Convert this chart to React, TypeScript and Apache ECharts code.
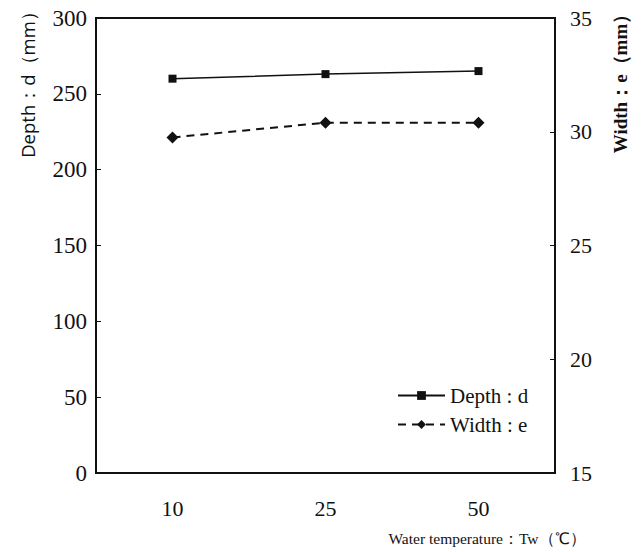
import React, { useEffect, useRef } from "react";
import * as echarts from "echarts";

const categories = ["10", "25", "50"];
const depthValues = [260, 263, 265];
const widthValues = [29.75, 30.4, 30.4];
const leftTicks = { min: 0, max: 300, interval: 50 };
const rightTicks = { min: 15, max: 35, interval: 5 };
const seriesNames = ["Depth : d", "Width : e"];

const SERIF = "Liberation Serif";
const SANS = "Open Sans";

export default function App() {
  const ref = useRef<HTMLDivElement>(null);
  useEffect(() => {
    if (!ref.current) return;
    const chart = echarts.init(ref.current, undefined, { renderer: "svg" });
    const legendText = { fontFamily: SERIF, fontSize: 21, color: "#111" };
    chart.setOption({
      animation: false,
      backgroundColor: "#ffffff",
      textStyle: { fontFamily: SERIF },
      grid: {
        left: 96,
        right: 87,
        top: 18,
        bottom: 79,
        show: true,
        borderColor: "#111",
        borderWidth: 2,
        backgroundColor: "transparent",
      },
      legend: {
        orient: "vertical",
        left: 392,
        top: 380,
        itemWidth: 47,
        itemHeight: 11,
        itemGap: 8,
        data: seriesNames.map((n) => ({ name: n, textStyle: legendText })),
        textStyle: legendText,
      },
      xAxis: {
        type: "category",
        data: categories,
        boundaryGap: true,
        axisLine: { lineStyle: { color: "#111", width: 2 } },
        axisTick: { inside: true, length: 5, lineStyle: { color: "#111" } },
        axisLabel: { fontFamily: SERIF, fontSize: 22, color: "#111", margin: 24 },
        splitLine: { show: false },
      },
      yAxis: [
        {
          type: "value",
          ...leftTicks,
          position: "left",
          axisLine: { show: true, lineStyle: { color: "#111", width: 2 } },
          axisTick: { show: true, inside: true, length: 5, lineStyle: { color: "#111" } },
          axisLabel: { fontFamily: SERIF, fontSize: 23, color: "#111", margin: 9 },
          splitLine: { show: false },
        },
        {
          type: "value",
          ...rightTicks,
          position: "right",
          axisLine: { show: true, lineStyle: { color: "#111", width: 2 } },
          axisTick: { show: true, inside: true, length: 5, lineStyle: { color: "#111" } },
          axisLabel: { fontFamily: SERIF, fontSize: 22, color: "#111", margin: 15 },
          splitLine: { show: false },
        },
      ],
      series: [
        {
          name: seriesNames[0],
          type: "line",
          yAxisIndex: 0,
          data: depthValues,
          symbol: "rect",
          symbolSize: 8,
          itemStyle: { color: "#111" },
          lineStyle: { color: "#111", width: 1.5, type: "solid" },
        },
        {
          name: seriesNames[1],
          type: "line",
          yAxisIndex: 1,
          data: widthValues,
          symbol: "diamond",
          symbolSize: 12,
          itemStyle: { color: "#111" },
          lineStyle: { color: "#111", width: 2, type: [8, 6] },
        },
      ],
      graphic: [
        {
          type: "text",
          x: 27,
          y: 80,
          rotation: Math.PI / 2,
          style: {
            text: "Depth：d（mm）",
            fontFamily: SANS,
            fontSize: 18.5,
            fill: "#111",
            align: "center",
            verticalAlign: "middle",
          },
        },
        {
          type: "text",
          x: 620,
          y: 79,
          rotation: Math.PI / 2,
          style: {
            text: "Width：e（mm）",
            fontFamily: SERIF,
            fontSize: 19,
            fontWeight: "bold",
            fill: "#111",
            align: "center",
            verticalAlign: "middle",
          },
        },
        {
          type: "text",
          x: 487,
          y: 538,
          style: {
            text: "Water temperature：Tw（℃）",
            fontFamily: SERIF,
            fontSize: 15.5,
            fill: "#111",
            align: "center",
            verticalAlign: "middle",
          },
        },
      ],
    });
    return () => chart.dispose();
  }, []);
  return (
    <div
      ref={ref}
      style={{ position: "fixed", left: 0, top: 0, width: 642, height: 552, background: "#fff" }}
    />
  );
}
